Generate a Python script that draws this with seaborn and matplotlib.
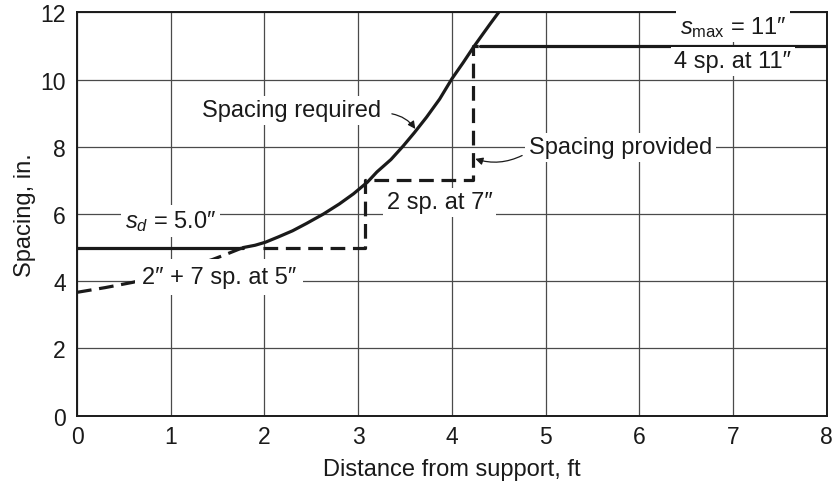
import matplotlib
matplotlib.use("Agg")
import matplotlib.pyplot as plt
import numpy as np
import pandas as pd
import seaborn as sns

# ---- data (distance from support in ft, spacing in in.) ----
req_x = [1.77, 1.90, 2.01, 2.15, 2.30, 2.45, 2.63, 2.80, 2.95, 3.10, 3.20, 3.35,
         3.48, 3.60, 3.73, 3.87, 4.00, 4.12, 4.23, 4.33, 4.41, 4.50]
req_y = [5.00, 5.07, 5.16, 5.32, 5.50, 5.72, 6.00, 6.30, 6.60, 6.95, 7.25, 7.62,
         8.02, 8.42, 8.88, 9.42, 10.02, 10.50, 10.96, 11.35, 11.66, 12.00]

ext_x = [0.0, 0.3, 0.6, 0.9, 1.2, 1.45, 1.6, 1.77]
ext_y = [3.67, 3.81, 3.97, 4.18, 4.43, 4.65, 4.81, 5.00]

sd_x = [0.0, 1.77]
sd_y = [5.0, 5.0]

smax_x = [4.30, 8.0]
smax_y = [11.0, 11.0]

prov_x = [1.98, 3.07, 3.07, 4.23, 4.23, 4.30]
prov_y = [5.0, 5.0, 7.0, 7.0, 11.0, 11.0]

x_ticks = [0, 1, 2, 3, 4, 5, 6, 7, 8]
y_ticks = [0, 2, 4, 6, 8, 10, 12]

# ---- style ----
sns.set_style("white")
plt.rcParams['font.family'] = ['Liberation Sans', 'DejaVu Sans']
plt.rcParams['mathtext.fontset'] = 'custom'
plt.rcParams['mathtext.rm'] = 'Liberation Sans'
plt.rcParams['mathtext.it'] = 'Liberation Sans:italic'

fig = plt.figure(figsize=(8.32, 4.85), dpi=100)
ax = fig.add_axes([77 / 832, 1 - 416.7 / 485, (826.7 - 77) / 832, (416.7 - 13.3) / 485])

LW = 2.3
DASH = (0, (4.6, 2.4))

def draw(xs, ys, dashed=False):
    df = pd.DataFrame({"x": xs, "y": ys})
    sns.lineplot(data=df, x="x", y="y", ax=ax, sort=False, estimator=None,
                 color="#1a1a1a", lw=LW, zorder=3,
                 linestyle=DASH if dashed else "-")

draw(sd_x, sd_y)
draw(req_x, req_y)
draw(smax_x, smax_y)
draw(ext_x, ext_y, dashed=True)
draw(prov_x, prov_y, dashed=True)

ax.set_xlim(0, 8)
ax.set_ylim(0, 12)
ax.set_xticks(x_ticks)
ax.set_yticks(y_ticks)
ax.grid(True, color="#4a4a4a", lw=0.9, zorder=0)
ax.set_axisbelow(True)
for s in ax.spines.values():
    s.set_color("#1a1a1a")
    s.set_linewidth(1.4)
ax.tick_params(axis="both", length=0, labelsize=16.5, colors="#1a1a1a")
ax.tick_params(axis="x", pad=7)
ax.tick_params(axis="y", pad=8)
ax.set_xlabel("Distance from support, ft", fontsize=17, color="#1a1a1a", labelpad=7)
ax.set_ylabel("Spacing, in.", fontsize=17, color="#1a1a1a", labelpad=3)

bb = dict(facecolor="white", edgecolor="none", pad=2.5)
tk = dict(fontsize=17, color="#1a1a1a", ha="center", va="center", zorder=5, bbox=bb)

ax.text(2.29, 9.08, "Spacing required", **tk)
ax.text(5.80, 7.99, "Spacing provided", **tk)
ax.text(3.87, 6.35, "2 sp. at 7\u2033", **tk)
ax.text(1.00, 5.80, "$s_d$ = 5.0\u2033", **tk)
tk2 = dict(tk)
tk2["bbox"] = dict(facecolor="white", edgecolor="none", pad=5)
ax.text(1.52, 4.12, "2\u2033 + 7 sp. at 5\u2033", **tk2)
ax.text(7.00, 11.58, "$s_{\\mathrm{max}}$ = 11\u2033", **tk)
ax.text(7.00, 10.55, "4 sp. at 11\u2033", **tk)

ap = dict(arrowstyle="-|>", lw=0.9, color="#1a1a1a", mutation_scale=11,
          shrinkA=0, shrinkB=0, connectionstyle="arc3,rad=-0.2")
ax.annotate("", xy=(3.61, 8.53), xytext=(3.36, 8.98), arrowprops=ap, zorder=6)
ax.annotate("", xy=(4.25, 7.64), xytext=(4.75, 7.74), arrowprops=ap, zorder=6)

fig.savefig("out.png", dpi=100)
